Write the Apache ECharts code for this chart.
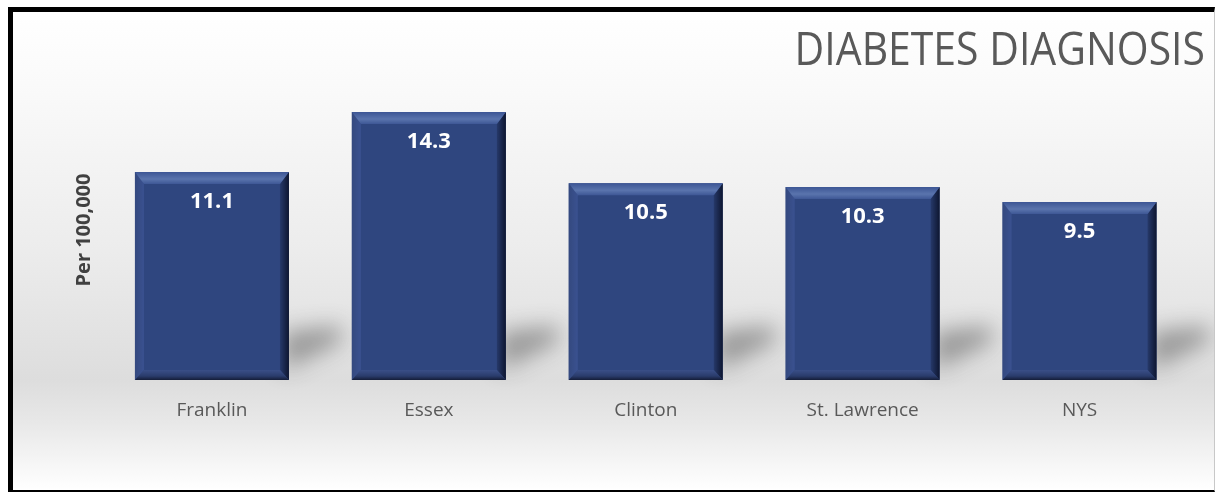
<!DOCTYPE html>
<html>
<head>
<meta charset="utf-8">
<script src="https://cdn.jsdelivr.net/npm/echarts@6/dist/echarts.min.js"></script>
<style>
  html, body { margin: 0; padding: 0; background: #fff; width: 1216px; height: 494px; overflow: hidden; }
  #frame { position: absolute; left: 8px; top: 7px; width: 1201px; height: 478px;
           border-left: 5px solid #000; border-top: 5px solid #000;
           border-right: 1px solid #c8c8c8; border-bottom: 2px solid #000; }
  #chart { position: absolute; left: 13px; top: 12px; width: 1201px; height: 478px; }
</style>
</head>
<body>
<div id="frame"></div>
<div id="chart"></div>
<script>
const titleText = 'DIABETES DIAGNOSIS';
const yAxisName = 'Per 100,000';
const categories = ['Franklin', 'Essex', 'Clinton', 'St. Lawrence', 'NYS'];
const values = [11.1, 14.3, 10.5, 10.3, 9.5];

const chart = echarts.init(document.getElementById('chart'), null, { renderer: 'canvas' });

const BAR_W = 154;
const OFF = 3000;
function renderBar(params, api) {
  const idx = api.value(0);
  const v = api.value(1);
  const top = api.coord([idx, v]);
  const base = api.coord([idx, 0]);
  const cx = top[0];
  const x0 = cx - BAR_W / 2, x1 = cx + BAR_W / 2;
  const y0 = top[1], y1 = base[1];
  const bt = 12, bs = 9, bb = 10, br = 9;
  const children = [];
  // soft cast shadow to the right (only the blurred shadow is visible)
  children.push({
    type: 'polygon',
    shape: { points: [[x1 - 6, y1 - 48 - OFF], [x1 + 52, y1 - 54 - OFF], [x1 + 52, y1 - 38 - OFF], [x1 - 6, y1 - 10 - OFF]] },
    style: {
      fill: '#888', shadowBlur: 22, shadowColor: 'rgba(60,60,60,0.45)', shadowOffsetY: OFF
    },
    z2: 0
  });
  // main body
  children.push({
    type: 'rect',
    shape: { x: x0, y: y0, width: BAR_W, height: y1 - y0 },
    style: { fill: '#2f467f' }, z2: 1
  });
  // left bevel
  children.push({
    type: 'polygon',
    shape: { points: [[x0, y0], [x0 + bs, y0 + bt], [x0 + bs, y1 - bb], [x0, y1]] },
    style: { fill: { type: 'linear', x: 0, y: 0, x2: 1, y2: 0,
      colorStops: [{ offset: 0, color: '#34497f' }, { offset: 1, color: '#3a5190' }] } }, z2: 2
  });
  // right bevel
  children.push({
    type: 'polygon',
    shape: { points: [[x1, y0], [x1 - br, y0 + bt], [x1 - br, y1 - bb], [x1, y1]] },
    style: { fill: { type: 'linear', x: 0, y: 0, x2: 1, y2: 0,
      colorStops: [{ offset: 0, color: '#26396a' }, { offset: 1, color: '#0e1630' }] } }, z2: 2
  });
  // top bevel
  children.push({
    type: 'polygon',
    shape: { points: [[x0, y0], [x1, y0], [x1 - br, y0 + bt], [x0 + bs, y0 + bt]] },
    style: { fill: { type: 'linear', x: 0, y: 0, x2: 0, y2: 1,
      colorStops: [{ offset: 0, color: '#3c5594' }, { offset: 0.6, color: '#5a74ad' }, { offset: 1, color: '#3f5896' }] } }, z2: 3
  });
  // bottom bevel
  children.push({
    type: 'polygon',
    shape: { points: [[x0, y1], [x1, y1], [x1 - br, y1 - bb], [x0 + bs, y1 - bb]] },
    style: { fill: { type: 'linear', x: 0, y: 0, x2: 0, y2: 1,
      colorStops: [{ offset: 0, color: '#3a4f88' }, { offset: 0.6, color: '#2a3c6c' }, { offset: 1, color: '#141d38' }] } }, z2: 3
  });
  // value label
  children.push({
    type: 'text',
    style: {
      text: String(values[idx]), x: cx, y: y0 + 30,
      fill: '#ffffff', font: 'bold 22px "Open Sans"',
      textAlign: 'center', textVerticalAlign: 'middle'
    }, z2: 5
  });
  return { type: 'group', children };
}

chart.setOption({
  animation: false,
  backgroundColor: {
    type: 'linear', x: 0, y: 0, x2: 0, y2: 1,
    colorStops: [
      { offset: 0, color: '#ffffff' },
      { offset: 0.15, color: '#fafafa' },
      { offset: 0.5, color: '#ececec' },
      { offset: 0.77, color: '#dddddd' },
      { offset: 0.86, color: '#e8e8e8' },
      { offset: 1, color: '#ffffff' }
    ]
  },
  graphic: [{
    type: 'text',
    x: 1192, y: 40,
    scaleX: 0.89,
    style: {
      text: titleText, font: '46px "Open Sans"', fill: '#595959',
      textAlign: 'right', textVerticalAlign: 'middle'
    }
  }],
  grid: { left: 90.5, right: 26, top: 68, bottom: 110 },
  xAxis: {
    type: 'category',
    data: categories,
    axisLine: { show: false },
    axisTick: { show: false },
    axisLabel: { color: '#595959', fontSize: 19, fontFamily: 'Open Sans', margin: 21 }
  },
  yAxis: {
    type: 'value', min: 0, max: 16,
    name: yAxisName, nameLocation: 'middle', nameRotate: 90, nameGap: 9,
    nameTextStyle: { color: '#404040', fontSize: 20, fontWeight: 'bold', fontFamily: 'Open Sans' },
    axisLine: { show: false }, axisTick: { show: false },
    axisLabel: { show: false }, splitLine: { show: false }
  },
  series: [{
    type: 'custom',
    renderItem: renderBar,
    clip: false,
    data: values.map((v, i) => [i, v]),
    encode: { x: 0, y: 1 }
  }]
});
</script>
</body>
</html>
